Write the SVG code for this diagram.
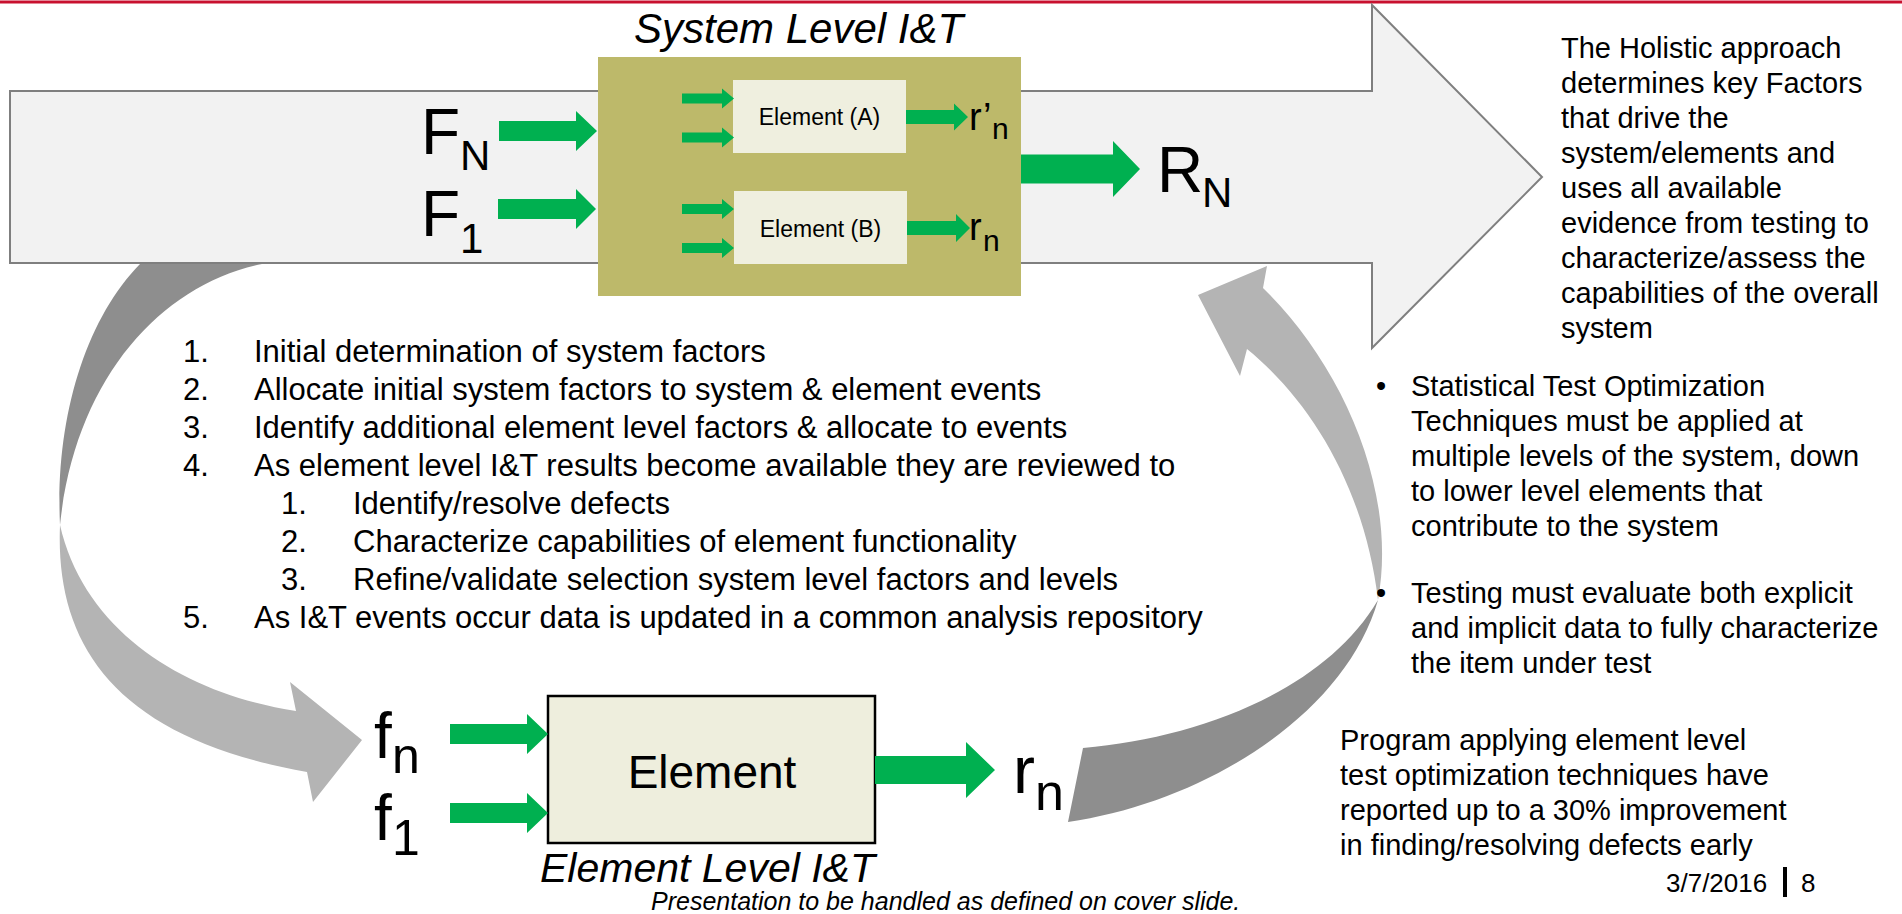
<svg xmlns="http://www.w3.org/2000/svg" width="1902" height="914" viewBox="0 0 1902 914">
<style>
.t{font-family:"Liberation Sans",Arial,sans-serif;fill:#000}
.it{font-style:italic}
.g{fill:#00b050}
.dk{fill:#8e8e8e}
.lt{fill:#b4b4b4}
.box{fill:#efefdf}
</style>
<rect x="0" y="0.5" width="1902" height="3" fill="#c8102e"/>
<g id="system-flow">
<path d="M10 91 L1372 91 L1372 5 L1542 177 L1372 348 L1372 263 L10 263 Z" fill="#f2f2f2" stroke="#7f7f7f" stroke-width="2"/>
</g>
<g id="connectors">
<path class="dk" d="M140 264 L262 264 C160 285 75 380 60 525 C55 420 85 320 140 264 Z"/>
<path class="lt" d="M60 525 C55 645 115 738 307 772 L313 802 L362 740 L290 682 L296 711 C190 695 85 635 60 525 Z"/>
<path class="dk" d="M1378 600 C1345 715 1205 802 1068 822 L1083 748 C1200 738 1325 690 1378 600 Z"/>
<path class="lt" d="M1378 600 C1398 490 1342 365 1263 288 L1267 266 L1198 295 L1240 376 L1247 349 C1312 402 1365 490 1378 600 Z"/>
</g>
<g id="system-box">
<rect x="598" y="57" width="423" height="239" fill="#bdb96a"/>
<text class="t it" x="634" y="43" font-size="42">System Level I&amp;T</text>
</g>
<g id="element-a">
<rect class="box" x="733" y="80" width="173" height="73"/>
<text class="t" x="819.5" y="125" font-size="23" text-anchor="middle">Element (A)</text>
</g>
<g id="element-b">
<rect class="box" x="734" y="191" width="173" height="73"/>
<text class="t" x="820.5" y="237" font-size="23" text-anchor="middle">Element (B)</text>
</g>
<g id="element">
<rect x="548" y="696" width="327" height="147" fill="#eeeedd" stroke="#000" stroke-width="2.5"/>
<text class="t" x="712" y="788" font-size="46" text-anchor="middle">Element</text>
<text class="t it" x="540" y="882" font-size="41">Element Level I&amp;T</text>
</g>
<g id="arrows">
<polygon class="g" points="499,121 576,121 576,111 597,131 576,151 576,141 499,141"/>
<polygon class="g" points="498,199 576,199 576,189 596,209 576,229 576,219 498,219"/>
<polygon class="g" points="682,93.5 722,93.5 722,88.5 734,98.5 722,108.5 722,103.5 682,103.5"/>
<polygon class="g" points="682,132.5 722,132.5 722,127.5 734,137.5 722,147.5 722,142.5 682,142.5"/>
<polygon class="g" points="682,204 722,204 722,199 734,209 722,219 722,214 682,214"/>
<polygon class="g" points="682,243 722,243 722,238 734,248 722,258 722,253 682,253"/>
<polygon class="g" points="906,110 954,110 954,103.5 968,117 954,130.5 954,124 906,124"/>
<polygon class="g" points="907,221 956,221 956,214 970,228 956,242 956,235 907,235"/>
<polygon class="g" points="1021,154.5 1113,154.5 1113,141 1140,169 1113,197 1113,183.5 1021,183.5"/>
<polygon class="g" points="450,724 527,724 527,714 548,734 527,754 527,744 450,744"/>
<polygon class="g" points="450,803 527,803 527,793 548,813 527,833 527,823 450,823"/>
<polygon class="g" points="875,756 966,756 966,742 995,770 966,798 966,784 875,784"/>
</g>
<g id="labels">
<text class="t" x="421" y="154" font-size="64">F<tspan x="460" y="170" font-size="42">N</tspan></text>
<text class="t" x="421" y="236" font-size="64">F<tspan x="460" y="253" font-size="42">1</tspan></text>
<text class="t" x="1157" y="192" font-size="64">R<tspan x="1202" y="207" font-size="42">N</tspan></text>
<text class="t" x="969" y="130" font-size="38">r’<tspan x="992" y="139" font-size="30">n</tspan></text>
<text class="t" x="969" y="240" font-size="38">r<tspan x="983" y="251" font-size="30">n</tspan></text>
<text class="t" x="374" y="758" font-size="64">f<tspan x="392" y="773" font-size="50">n</tspan></text>
<text class="t" x="374" y="840" font-size="64">f<tspan x="392" y="855" font-size="50">1</tspan></text>
<text class="t" x="1013" y="793" font-size="66">r<tspan x="1035" y="810" font-size="52">n</tspan></text>
</g>
<g id="steps" class="t" font-size="31">
<text x="183" y="362">1.</text><text x="254" y="362">Initial determination of system factors</text>
<text x="183" y="400">2.</text><text x="254" y="400">Allocate initial system factors to system &amp; element events</text>
<text x="183" y="438">3.</text><text x="254" y="438">Identify additional element level factors &amp; allocate to events</text>
<text x="183" y="476">4.</text><text x="254" y="476">As element level I&amp;T results become available they are reviewed to</text>
<text x="281" y="514">1.</text><text x="353" y="514">Identify/resolve defects</text>
<text x="281" y="552">2.</text><text x="353" y="552">Characterize capabilities of element functionality</text>
<text x="281" y="590">3.</text><text x="353" y="590">Refine/validate selection system level factors and levels</text>
<text x="183" y="628">5.</text><text x="254" y="628">As I&amp;T events occur data is updated in a common analysis repository</text>
</g>
<g id="holistic" class="t" font-size="29">
<text x="1561" y="58">The Holistic approach</text>
<text x="1561" y="93">determines key Factors</text>
<text x="1561" y="128">that drive the</text>
<text x="1561" y="163">system/elements and</text>
<text x="1561" y="198">uses all available</text>
<text x="1561" y="233">evidence from testing to</text>
<text x="1561" y="268">characterize/assess the</text>
<text x="1561" y="303">capabilities of the overall</text>
<text x="1561" y="338">system</text>
</g>
<g id="bullets" class="t" font-size="29">
<text x="1376" y="396">•</text>
<text x="1411" y="396">Statistical Test Optimization</text>
<text x="1411" y="431">Techniques must be applied at</text>
<text x="1411" y="466">multiple levels of the system, down</text>
<text x="1411" y="501">to lower level elements that</text>
<text x="1411" y="536">contribute to the system</text>
<text x="1376" y="603">•</text>
<text x="1411" y="603">Testing must evaluate both explicit</text>
<text x="1411" y="638">and implicit data to fully characterize</text>
<text x="1411" y="673">the item under test</text>
</g>
<g id="program" class="t" font-size="29">
<text x="1340" y="750">Program applying element level</text>
<text x="1340" y="785">test optimization techniques have</text>
<text x="1340" y="820">reported up to a 30% improvement</text>
<text x="1340" y="855">in finding/resolving defects early</text>
</g>
<g id="footer">
<text class="t it" x="651" y="910" font-size="25">Presentation to be handled as defined on cover slide.</text>
<text class="t" x="1666" y="892" font-size="26">3/7/2016</text>
<rect x="1783" y="867" width="4" height="30" fill="#000"/>
<text class="t" x="1801" y="892" font-size="26">8</text>
</g>
</svg>
